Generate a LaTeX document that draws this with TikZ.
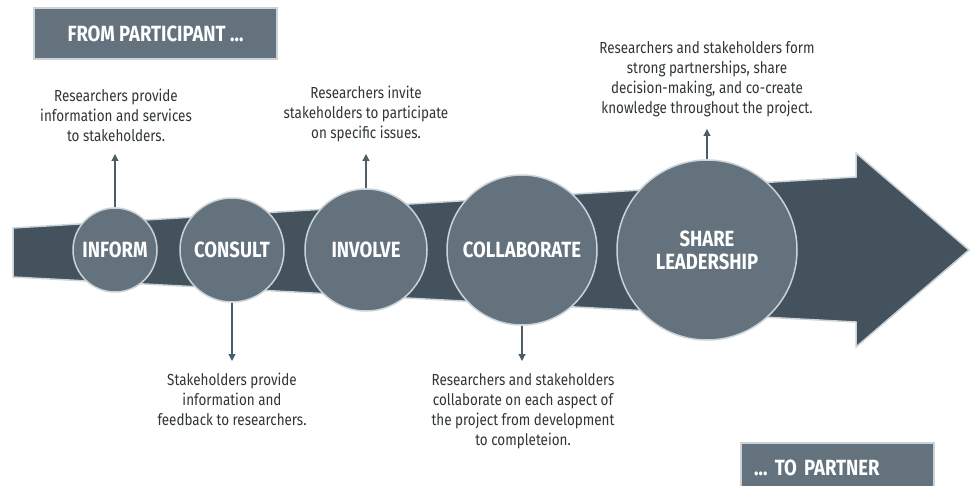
\documentclass[tikz,border=0pt]{standalone}
\usepackage{fontspec}
\setmainfont[FakeStretch=0.84]{Fira Sans}
\usetikzlibrary{arrows.meta,positioning}
\definecolor{Ink}{HTML}{2F3538}
\definecolor{Slate}{HTML}{63727C}
\definecolor{SlateDark}{HTML}{43525C}
\definecolor{Rim}{HTML}{CAD3D8}
\definecolor{Pointer}{HTML}{4E5E68}
\tikzset{stage/.style={circle,draw=Rim,fill=Slate,line width=1.5pt,inner sep=0pt,text=white,font=\fontsize{22}{23}\selectfont\bfseries,align=center},note/.style={align=center,text=Ink,font=\fontsize{16}{20}\selectfont,inner sep=0pt},banner/.style={draw=Rim,fill=Slate,line width=2pt,text=white,font=\fontsize{22}{22}\selectfont\bfseries},link/.style={-{Triangle[length=7pt,width=7pt]},line width=1.2pt,draw=Pointer,shorten >=12pt}}

\begin{document}
\begin{tikzpicture}[x=1pt,y=-1pt]
  \useasboundingbox (0,0) rectangle (971,486);
  % the widening band and its head
  \draw[draw=Rim,fill=SlateDark,line width=1.5pt,line join=miter](13,228)--(856,177)--(856,153)--(969,250)--(856,347)--(856,322)--(13,277)--cycle;
  \node[stage,minimum size=84pt](inform)at(115,250){INFORM};
  \node[stage,minimum size=104pt](consult)at(232,250){CONSULT};
  \node[stage,minimum size=122pt](involve)at(366,250){INVOLVE};
  \node[stage,minimum size=150pt](collab)at(522,250){COLLABORATE};
  \node[stage,minimum size=180pt](share)at(707,250){SHARE\\LEADERSHIP};
  \node[note,anchor=south](informtxt)at(116,142){Researchers provide\\information and services\\to stakeholders.};
  \node[note,anchor=south](involvetxt)at(366,142){Researchers invite\\stakeholders to participate\\on specific issues.};
  \node[note,anchor=south](sharetxt)at(707,117){Researchers and stakeholders form\\strong partnerships, share\\decision-making, and co-create\\knowledge throughout the project.};
  \node[note,anchor=north](consulttxt)at(232,373){Stakeholders provide\\information and\\feedback to researchers.};
  \node[note,anchor=north](collabtxt)at(523,373){Researchers and stakeholders\\collaborate on each aspect of\\the project from development\\to completeion.};
  \draw[link](inform.north)--(inform.north|-informtxt.south);
  \draw[link](involve.north)--(involve.north|-involvetxt.south);
  \draw[link](share.north)--(share.north|-sharetxt.south);
  \draw[link](consult.south)--(consult.south|-consulttxt.north);
  \draw[link](collab.south)--(collab.south|-collabtxt.north);
  \node[banner,minimum width=243pt,minimum height=51pt](from)at(155.5,33.5){FROM PARTICIPANT …};
  \node[banner,anchor=north west,minimum height=50pt,text width=167pt,inner xsep=13pt,align=left](to)at(740,442){… TO PARTNER};
\end{tikzpicture}
\end{document}
